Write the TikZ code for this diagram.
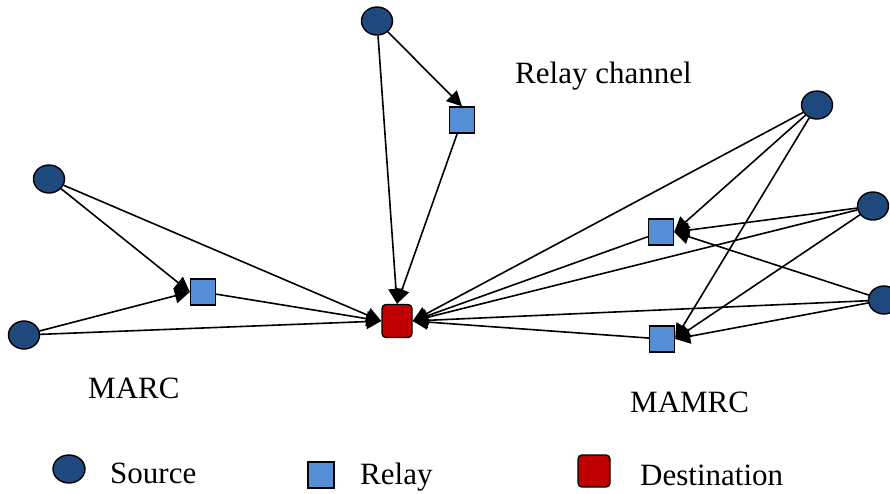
\documentclass[tikz,border=0pt]{standalone}
\usepackage{fontspec}
\setmainfont{Liberation Serif}
\usetikzlibrary{arrows.meta,shapes.geometric}
\definecolor{srcblue}{RGB}{31,73,125}
\definecolor{relayblue}{RGB}{85,142,213}
\definecolor{destred}{RGB}{192,0,0}
\begin{document}
\begin{tikzpicture}[x=1pt,y=-1pt,
  srcnode/.style={ellipse,draw=black,line width=1.4pt,fill=srcblue,minimum width=31pt,minimum height=28pt,inner sep=0pt},
  relaynode/.style={rectangle,draw=black,line width=1.4pt,fill=relayblue,minimum width=25pt,minimum height=26pt,inner sep=0pt},
  destnode/.style={rectangle,rounded corners=4pt,draw=black,line width=1.4pt,fill=destred,minimum width=30pt,minimum height=33pt,inner sep=0pt},
  lbl/.style={anchor=base west,inner sep=0pt,font=\fontsize{31}{36}\selectfont},
  link/.style={draw=black,line width=1.6pt,-{Triangle[length=15pt,width=15pt]}}
]
\useasboundingbox (0,0) rectangle (890,493);
% main nodes
\node[destnode] (D) at (397,321) {};
\node[srcnode] (S1) at (377,21) {};
\node[relaynode] (R1) at (462,120) {};
\node[srcnode] (S2) at (49,179) {};
\node[srcnode] (S3) at (24,335) {};
\node[relaynode] (R2) at (203,292) {};
\node[srcnode] (S4) at (817,105) {};
\node[srcnode] (S5) at (873,206) {};
\node[srcnode] (S6) at (884,300) {};
\node[relaynode] (R3) at (661,232) {};
\node[relaynode] (R4) at (662,339) {};
% relay channel
\draw[link] (S1) -- (R1.north);
\draw[link] (S1) -- (D.north);
\draw[link] (R1) -- (D.north);
% MARC
\draw[link] (S2) -- (R2.west);
\draw[link] (S3) -- (R2.west);
\draw[link] (S2) -- (D.west);
\draw[link] (S3) -- (D.west);
\draw[link] (R2) -- (D.west);
% MAMRC
\draw[link] (S4) -- (R3.east);
\draw[link] (S4) -- (R4.east);
\draw[link] (S4) -- (D.east);
\draw[link] (S5) -- (R3.east);
\draw[link] (S5) -- (R4.east);
\draw[link] (S5) -- (D.east);
\draw[link] (S6) -- (R3.east);
\draw[link] (S6) -- (R4.east);
\draw[link] (S6) -- (D.east);
\draw[link] (R3) -- (D.east);
\draw[link] (R4) -- (D.east);
% labels
\node[lbl] (tRC) at (515,83) {Relay channel};
\node[lbl] (tMARC) at (88,398) {MARC};
\node[lbl] (tMAMRC) at (630,412) {MAMRC};
% legend
\node[srcnode,minimum width=32pt,minimum height=28pt] (LS) at (69,469) {};
\node[lbl] (tS) at (110,483) {Source};
\node[relaynode,minimum width=26pt,minimum height=26pt] (LR) at (321,475) {};
\node[lbl] (tR) at (360,484) {Relay};
\node[destnode,minimum width=32pt,minimum height=32pt] (LD) at (594,471) {};
\node[lbl] (tD) at (640,485) {Destination};
\end{tikzpicture}
\end{document}
